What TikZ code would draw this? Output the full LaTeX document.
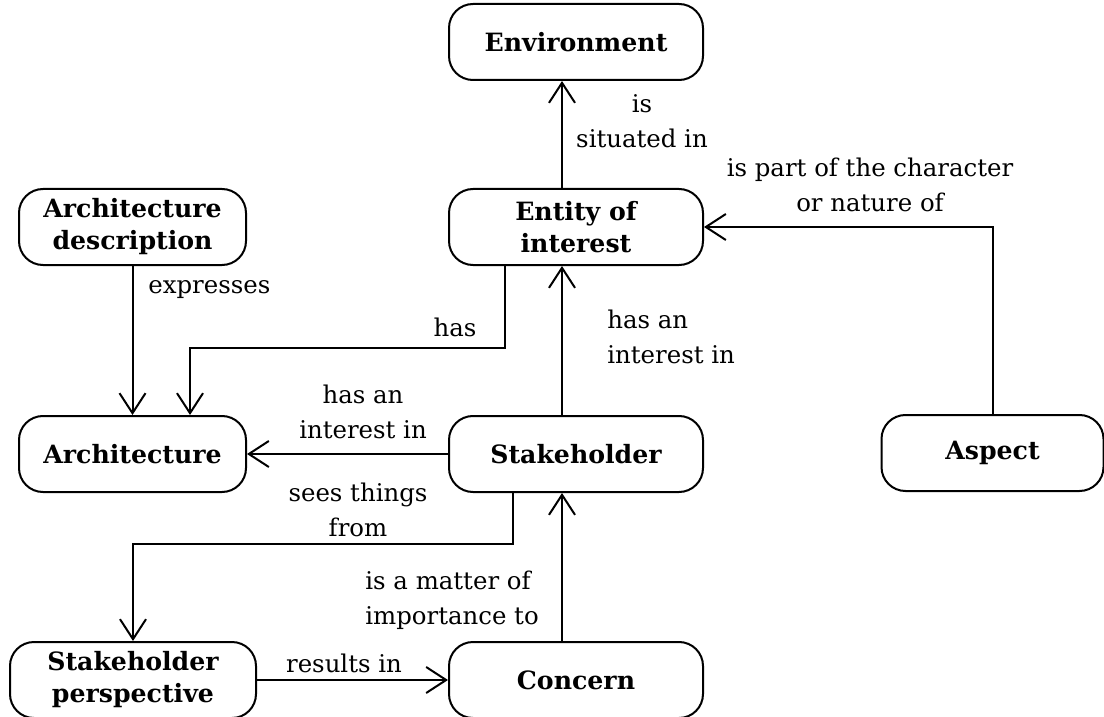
\documentclass[tikz,border=0pt]{standalone}
\usepackage{fontspec}
\setmainfont{DejaVu Serif}
\usetikzlibrary{arrows.meta}

\begin{document}
\begin{tikzpicture}[x=0.5pt, y=-0.5pt,
    box/.style={draw, rounded corners=12pt, line width=1pt, minimum height=38pt,
        minimum width=127pt, align=center, inner sep=2pt,
        font=\fontsize{12.6}{16}\selectfont\bfseries},
    rel/.style={line width=1pt, -{Straight Barb[length=10pt, width=13pt, line width=1pt]}},
    lbl/.style={inner sep=0pt, font=\fontsize{12.2}{17.5}\selectfont}]
            \useasboundingbox (0,0) rectangle (1104,717);
            % boxes
            \node[box] (env) at (576,42) {Environment};
            \node[box, minimum width=113.5pt] (ad) at (132.5,227) {Architecture\\description};
            \node[box] (ent) at (576,227) {Entity of\\interest};
            \node[box, minimum width=113.5pt] (arch) at (132.5,454) {Architecture};
            \node[box] (stk) at (576,454) {Stakeholder};
            \node[box, minimum width=111pt] (asp) at (992.5,453) {Aspect};
            \node[box, minimum width=123pt] (sp) at (133,680) {Stakeholder\\perspective};
            \node[box] (con) at (576,680) {Concern};
            % relations
            \draw[rel] ([xshift=-7pt]ent.north) -- ([xshift=-7pt]env.south);
            \draw[rel] (asp.north) |- (ent.east);
            \draw[rel] ([xshift=-7pt]stk.north) -- ([xshift=-7pt]ent.south);
            \draw[rel] ([xshift=-35.5pt]ent.south) -- ++(0,82) -| ([xshift=28.75pt]arch.north);
            \draw[rel] (ad.south) -- (arch.north);
            \draw[rel] (stk.west) -- (arch.east);
            \draw[rel] ([xshift=-31.5pt]stk.south) -- ++(0,51) -| (sp.north);
            \draw[rel] ([xshift=-7pt]con.north) -- ([xshift=-7pt]stk.south);
            \draw[rel] (sp.east) -- (con.west);
            % labels
            \node[lbl, align=center] (l1) at (642,121) {is\\situated in};
            \node[lbl, align=center] (l2) at (870,185) {is part of the character\\or nature of};
            \node[lbl, align=left, anchor=west] (l3) at (607,337) {has an\\interest in};
            \node[lbl] (l4) at (455,327) {has};
            \node[lbl, anchor=west] (l5) at (148,290) {expresses};
            \node[lbl, align=center] (l6) at (363,412) {has an\\interest in};
            \node[lbl, align=center] (l7) at (358,510) {sees things\\from};
            \node[lbl, align=left, anchor=west] (l8) at (365,600) {is a matter of\\importance to};
            \node[lbl] (l9) at (344,663) {results in};
        \end{tikzpicture}
\end{document}
